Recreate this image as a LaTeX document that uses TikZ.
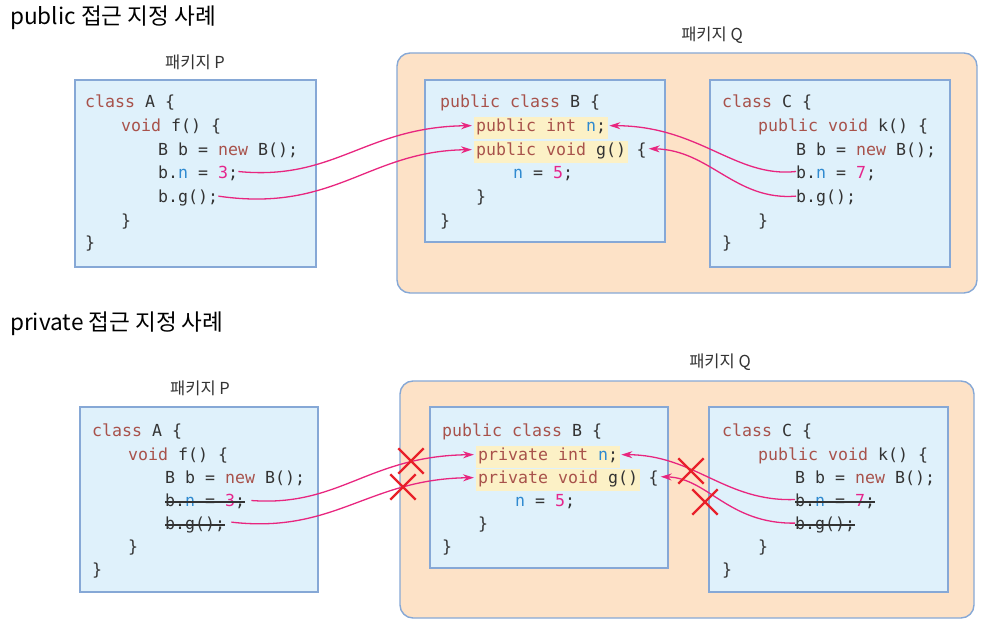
\documentclass[tikz,border=0pt]{standalone}
\usepackage{fontspec}
\usetikzlibrary{arrows.meta,shapes.misc}
\newfontfamily\codefont{DejaVu Sans Mono}
\newfontfamily\krfont{Noto Sans CJK KR}

\definecolor{pkgfill}{HTML}{FDE2C7}
\definecolor{boxfill}{HTML}{DFF1FB}
\definecolor{boxline}{HTML}{86A8D6}
\definecolor{hlfill}{HTML}{FCF1C6}
\definecolor{kwcol}{HTML}{A8524B}
\definecolor{idcol}{HTML}{2F8AD0}
\definecolor{numcol}{HTML}{E5258C}
\definecolor{codefg}{HTML}{333333}
\definecolor{linkcol}{HTML}{E8267F}
\definecolor{crosscol}{HTML}{E8202A}

\newcommand{\ckw}[1]{\textcolor{kwcol}{#1}}
\newcommand{\cid}[1]{\textcolor{idcol}{#1}}
\newcommand{\cnum}[1]{\textcolor{numcol}{#1}}

\tikzset{
  code/.style={font=\codefont\fontsize{16.6pt}{20pt}\selectfont, text=codefg, inner sep=0pt, anchor=mid west},
  hl/.style={code, fill=hlfill, inner xsep=2pt, inner ysep=2pt, text height=13pt, text depth=5pt},
  title/.style={font=\krfont\fontsize{22.6pt}{25pt}\selectfont, inner sep=0pt, anchor=mid west},
  pkglabel/.style={font=\krfont\fontsize{16.5pt}{18pt}\selectfont, text=codefg, inner sep=0pt},
  pkgarea/.style={fill=pkgfill, draw=boxline, line width=1.4pt, rounded corners=13pt},
  classbox/.style={fill=boxfill, draw=boxline, line width=1.4pt},
  conn/.style={draw=linkcol, line width=1.3pt, -{Stealth[length=11pt,width=7pt]}},
  strikeln/.style={draw=codefg, line width=1.1pt},
  xmark/.style={cross out, draw=crosscol, line width=2.4pt, minimum width=23pt, minimum height=23pt, inner sep=0pt}
}

\begin{document}
\begin{tikzpicture}[x=1pt,y=-1pt]
\useasboundingbox (0,0) rectangle (993,634);

% ===================== public access =====================
\node[title] (t1) at (10,22) {public 접근 지정 사례};
\node[pkglabel] (p1) at (195,62) {패키지 P};
\node[pkglabel] (q1) at (712,35) {패키지 Q};

\draw[pkgarea] (397,53) rectangle (977,293);
\draw[classbox] (75,80) rectangle (316,267);
\draw[classbox] (425,80) rectangle (665,242);
\draw[classbox] (710,80) rectangle (950,267);

% class A
\node[code] (a1) at (85,105.5) {\ckw{class} A \{};
\node[code] (a2) at (121,129.5) {\ckw{void} f() \{};
\node[code] (a3) at (158,153.5) {B b = \ckw{new} B();};
\node[code] (a4) at (158,176.5) {b.\cid{n} = \cnum{3};};
\node[code] (a5) at (158,200.5) {b.g();};
\node[code] (a6) at (121,224.5) {\}};
\node[code] (a7) at (85,246.5) {\}};

% class B
\node[code] (b1) at (440,105.5) {\ckw{public class} B \{};
\node[hl] (b2) at (474,129.5) {\ckw{public int} \cid{n};};
\node[hl] (b3) at (474,153.5) {\ckw{public void} g()};
\node[code] (b3b) at ([xshift=8pt]b3.mid east) {\{};
\node[code] (b4) at (513,176.5) {\cid{n} = \cnum{5};};
\node[code] (b5) at (476,200.5) {\}};
\node[code] (b6) at (440,224.5) {\}};

% class C
\node[code] (c1) at (722,105.5) {\ckw{class} C \{};
\node[code] (c2) at (758,129.5) {\ckw{public void} k() \{};
\node[code] (c3) at (796,153.5) {B b = \ckw{new} B();};
\node[code] (c4) at (796,176.5) {b.\cid{n} = \cnum{7};};
\node[code] (c5) at (796,200.5) {b.g();};
\node[code] (c6) at (758,224.5) {\}};
\node[code] (c7) at (722,246.5) {\}};

% accesses
\draw[conn] ([yshift=2pt]a4.east) .. controls (335,181) and (365,127) .. ([xshift=-2pt,yshift=2pt]b2.west);
\draw[conn] ([yshift=2pt]a5.east) .. controls (335,213) and (368,151) .. ([xshift=-2pt,yshift=2pt]b3.west);
\draw[conn] ([yshift=2pt]c4.west) .. controls (735,178) and (700,126) .. ([xshift=1pt,yshift=2pt]b2.east);
\draw[conn] ([yshift=2pt]c5.west) .. controls (735,201) and (710,150) .. ([xshift=2pt,yshift=2pt]b3b.east);

% ===================== private access =====================
\node[title] (t2) at (10,328) {private 접근 지정 사례};
\node[pkglabel] (p2) at (200,388) {패키지 P};
\node[pkglabel] (q2) at (720,362) {패키지 Q};

\draw[pkgarea] (400,381) rectangle (974,618);
\draw[classbox] (80,407) rectangle (318,592);
\draw[classbox] (430,407) rectangle (668,568);
\draw[classbox] (709,407) rectangle (948,592);

% class A
\node[code] (d1) at (92,434.5) {\ckw{class} A \{};
\node[code] (d2) at (128,458.5) {\ckw{void} f() \{};
\node[code] (d3) at (165,481.5) {B b = \ckw{new} B();};
\node[code] (d4) at (165,504.5) {b.\cid{n} = \cnum{3};};
\node[code] (d5) at (165,527.5) {b.g();};
\node[code] (d6) at (128,550.5) {\}};
\node[code] (d7) at (92,573.5) {\}};

% class B
\node[code] (e1) at (442,434.5) {\ckw{public class} B \{};
\node[hl] (e2) at (476,458.5) {\ckw{private int} \cid{n};};
\node[hl] (e3) at (476,481.5) {\ckw{private void} g()};
\node[code] (e3b) at ([xshift=8pt]e3.mid east) {\{};
\node[code] (e4) at (515,504.5) {\cid{n} = \cnum{5};};
\node[code] (e5) at (478,527.5) {\}};
\node[code] (e6) at (442,550.5) {\}};

% class C
\node[code] (f1) at (722,434.5) {\ckw{class} C \{};
\node[code] (f2) at (758,458.5) {\ckw{public void} k() \{};
\node[code] (f3) at (795,481.5) {B b = \ckw{new} B();};
\node[code] (f4) at (795,504.5) {b.\cid{n} = \cnum{7};};
\node[code] (f5) at (795,527.5) {b.g();};
\node[code] (f6) at (758,550.5) {\}};
\node[code] (f7) at (722,573.5) {\}};

% struck-out statements
\draw[strikeln] ([yshift=2.5pt]d4.mid west) -- ([yshift=2.5pt]d4.mid east);
\draw[strikeln] ([yshift=2.5pt]d5.mid west) -- ([yshift=2.5pt]d5.mid east);
\draw[strikeln] ([yshift=2.5pt]f4.mid west) -- ([yshift=2.5pt]f4.mid east);
\draw[strikeln] ([yshift=2.5pt]f5.mid west) -- ([yshift=2.5pt]f5.mid east);

% refused accesses
\draw[conn] ([xshift=6pt,yshift=1pt]d4.east) .. controls (340,507) and (368,456) .. ([xshift=-2pt,yshift=2pt]e2.west);
\draw[conn] ([xshift=6pt,yshift=3pt]d5.east) .. controls (335,534) and (368,479) .. ([xshift=-2pt,yshift=2pt]e3.west);
\draw[conn] ([yshift=2pt]f4.west) .. controls (725,502) and (695,455) .. ([xshift=1pt,yshift=2pt]e2.east);
\draw[conn] ([yshift=2pt]f5.west) .. controls (728,524) and (708,478) .. ([xshift=2pt,yshift=2pt]e3b.east);

\node[xmark] (x1) at (411,461) {};
\node[xmark] (x2) at (403,487) {};
\node[xmark] (x3) at (691,471) {};
\node[xmark] (x4) at (705,502) {};
\end{tikzpicture}
\end{document}
